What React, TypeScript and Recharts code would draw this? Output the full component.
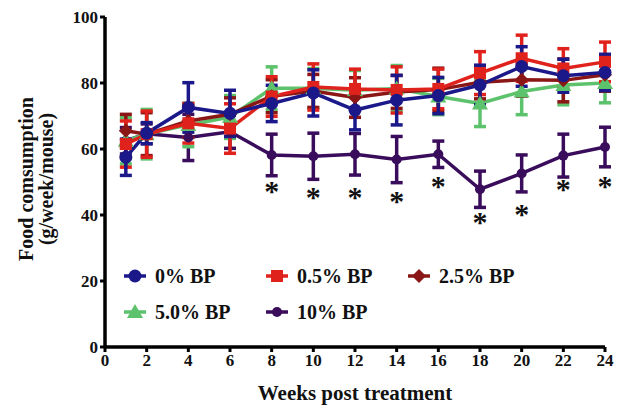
import React from "react";
import {
  ComposedChart,
  Line,
  Scatter,
  XAxis,
  YAxis,
  ErrorBar,
  Label,
} from "recharts";

const FONT = '"Liberation Serif", "Times New Roman", serif';

const weeks = [1, 2, 4, 6, 8, 10, 12, 14, 16, 18, 20, 22, 24];

const bp0 = [57.5, 64.8, 72.6, 70.8, 73.8, 77.0, 71.8, 74.8, 76.2, 79.4, 85.0, 82.2, 83.2];
const bp0Err = [5.5, 3.2, 7.5, 7, 5.5, 7, 6, 7.5, 5.5, 6, 6, 5, 5.5];

const bp05 = [61.5, 64.5, 67.8, 66.2, 75.9, 78.8, 78.2, 77.9, 78.2, 83, 87.5, 84.4, 86.4];
const bp05Err = [7, 7, 6, 7.5, 6, 7, 6, 7, 6, 6.5, 7, 6, 6];

const bp25 = [65.5, 64.5, 68.5, 70.5, 76, 77.6, 75.6, 77.3, 78, 80.2, 81, 80.8, 82.5];
const bp25Err = [5, 6.5, 5, 5, 5, 5, 6, 5, 6.5, 5, 5, 6.5, 5];

const bp5 = [62.5, 64.5, 67.3, 69.7, 78.4, 78.4, 77.8, 78.3, 75.9, 73.8, 77.4, 79.4, 80];
const bp5Err = [7, 7.5, 6.6, 6.5, 6.5, 6, 6, 7, 5.5, 7, 7, 6, 6];

const bp10 = [62.5, 64.6, 63.5, 65.2, 58.2, 57.8, 58.4, 56.8, 58.4, 47.8, 52.6, 58, 60.6];
const bp10Err = [4, 3, 7, 5, 6.3, 7, 6.3, 7, 4, 5.5, 5.6, 6.5, 6];

// significance marks under the 10% series
const starWeeks = [8, 10, 12, 14, 16, 18, 20, 22, 24];
const starY = [48.6, 46.8, 46.8, 45.6, 50, 39.2, 41.4, 49.2, 50];

const xTicks = [0, 2, 4, 6, 8, 10, 12, 14, 16, 18, 20, 22, 24];
const yTicks = [0, 20, 40, 60, 80, 100];

const SERIES = [
  { key: "bp10", name: "10% BP", color: "#3a0d5c", shape: "hex" },
  { key: "bp5", name: "5.0% BP", color: "#5dc26c", shape: "triangle" },
  { key: "bp25", name: "2.5% BP", color: "#8a1616", shape: "diamond" },
  { key: "bp05", name: "0.5% BP", color: "#e0221c", shape: "square" },
  { key: "bp0", name: "0% BP", color: "#1b1889", shape: "circle" },
];

const LEGEND_ORDER = ["bp0", "bp05", "bp25", "bp5", "bp10"];

const data = weeks.map((w, i) => ({
  week: w,
  bp0: bp0[i],
  bp0e: bp0Err[i],
  bp05: bp05[i],
  bp05e: bp05Err[i],
  bp25: bp25[i],
  bp25e: bp25Err[i],
  bp5: bp5[i],
  bp5e: bp5Err[i],
  bp10: bp10[i],
  bp10e: bp10Err[i],
}));

const stars = starWeeks.map((w, i) => ({ week: w, y: starY[i] }));

function Marker({ shape, cx, cy, color }: any) {
  if (cx == null || cy == null) return null;
  if (shape === "square") {
    return <rect x={cx - 6} y={cy - 6} width={12} height={12} fill={color} />;
  }
  if (shape === "diamond") {
    return <polygon points={`${cx},${cy - 7} ${cx + 7},${cy} ${cx},${cy + 7} ${cx - 7},${cy}`} fill={color} />;
  }
  if (shape === "triangle") {
    return <polygon points={`${cx},${cy - 8} ${cx + 8},${cy + 6} ${cx - 8},${cy + 6}`} fill={color} />;
  }
  if (shape === "hex") {
    return <circle cx={cx} cy={cy} r={5} fill={color} />;
  }
  return <circle cx={cx} cy={cy} r={6.5} fill={color} />;
}

function LegendBox() {
  return (
    <div
      style={{
        position: "absolute",
        left: 123,
        top: 258,
        width: 430,
        fontFamily: FONT,
        fontWeight: "bold",
        fontSize: 20,
        color: "#111",
        lineHeight: "36px",
      }}
    >
      {LEGEND_ORDER.map((k) => {
        const s = SERIES.find((x) => x.key === k)!;
        return (
          <div
            key={k}
            style={{ display: "inline-flex", alignItems: "center", width: 142, height: 36, verticalAlign: "top" }}
          >
            <svg width={24} height={20} style={{ marginRight: 8 }}>
              <line x1={1} y1={10} x2={23} y2={10} stroke={s.color} strokeWidth={3.5} />
              <Marker shape={s.shape} cx={12} cy={10} color={s.color} />
            </svg>
            <span>{s.name}</span>
          </div>
        );
      })}
    </div>
  );
}

function YLabel({ viewBox }: any) {
  const cy = viewBox.y + viewBox.height / 2 - 3;
  const style = { fontFamily: FONT, fontWeight: "bold", fontSize: 20, fill: "#111" } as any;
  return (
    <g>
      <text x={33} y={cy} transform={`rotate(-90, 33, ${cy})`} textAnchor="middle" style={style}>
        Food comsumption
      </text>
      <text x={53} y={cy} transform={`rotate(-90, 53, ${cy})`} textAnchor="middle" style={style}>
        (g/week/mouse)
      </text>
    </g>
  );
}

export default function App() {
  const tickStyle = { fontFamily: FONT, fontWeight: "bold", fontSize: 17, fill: "#111" };
  return (
    <div style={{ position: "absolute", left: 0, top: 0, width: 622, height: 408, background: "#fff" }}>
      <ComposedChart width={622} height={408} data={data} margin={{ top: 17, right: 17, bottom: 21, left: 0 }}>
        <XAxis
          dataKey="week"
          type="number"
          domain={[0, 24]}
          ticks={xTicks}
          interval={0}
          height={40}
          tick={tickStyle}
          tickSize={5}
          tickLine={{ stroke: "#000", strokeWidth: 3 }}
          axisLine={{ stroke: "#000", strokeWidth: 3.5 }}
        >
          <Label
            value="Weeks post treatment"
            position="bottom"
            offset={-2}
            style={{ fontFamily: FONT, fontWeight: "bold", fontSize: 21, fill: "#111" }}
          />
        </XAxis>
        <YAxis
          type="number"
          domain={[0, 100]}
          ticks={yTicks}
          interval={0}
          width={105}
          tick={tickStyle}
          tickSize={5}
          tickLine={{ stroke: "#000", strokeWidth: 3 }}
          axisLine={{ stroke: "#000", strokeWidth: 3.5 }}
          label={<YLabel />}
        />
        {SERIES.map((s) => (
          <Line
            key={s.key}
            dataKey={s.key}
            name={s.name}
            stroke={s.color}
            strokeWidth={3.5}
            type="linear"
            isAnimationActive={false}
            dot={(p: any) => <Marker key={`${s.key}-${p.index}`} shape={s.shape} cx={p.cx} cy={p.cy} color={s.color} />}
            activeDot={false}
            legendType="none"
          >
            <ErrorBar dataKey={`${s.key}e`} width={6} strokeWidth={3.5} stroke={s.color} direction="y" isAnimationActive={false} />
          </Line>
        ))}
        <Scatter
          data={stars}
          dataKey="y"
          isAnimationActive={false}
          legendType="none"
          shape={(p: any) => (
            <text x={p.cx} y={p.cy + 14} textAnchor="middle" style={{ fontFamily: FONT, fontWeight: "bold", fontSize: 30, fill: "#111" }}>
              *
            </text>
          )}
        />
      </ComposedChart>
      <LegendBox />
    </div>
  );
}
